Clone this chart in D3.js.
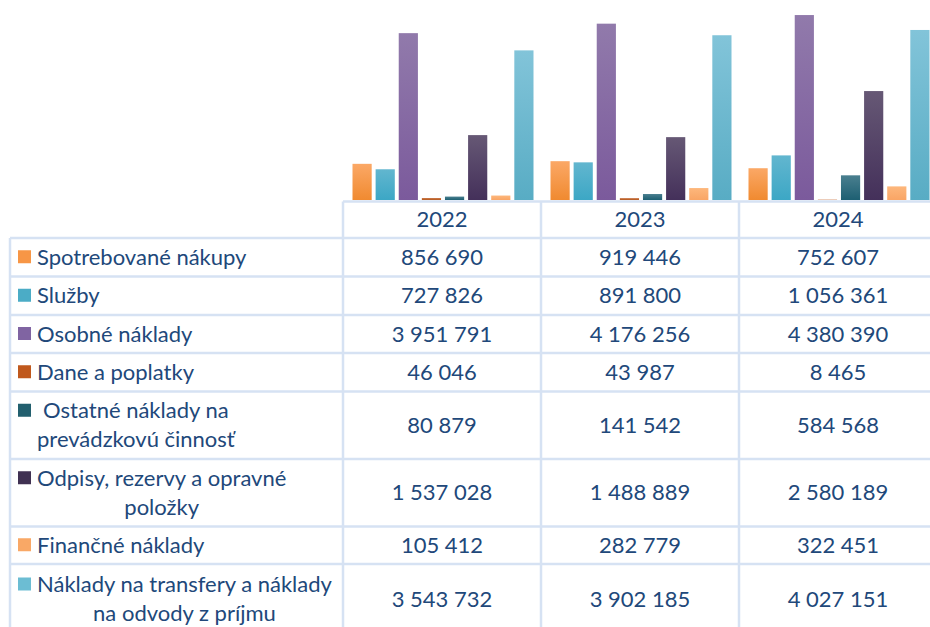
<!DOCTYPE html>
<html>
<head>
<meta charset="utf-8">
<script src="https://cdn.jsdelivr.net/npm/d3@7"></script>
<style>
  body { margin: 0; background: #fff; }
  text { font-family: Lato, "Open Sans", sans-serif; fill: #21487a; }
</style>
</head>
<body>
<div id="chart"></div>
<script>
var years = ['2022', '2023', '2024'];
var seriesNames = [
    ['Spotrebované nákupy'],
    ['Služby'],
    ['Osobné náklady'],
    ['Dane a poplatky'],
    ['Ostatné náklady na', 'prevádzkovú činnosť'],
    ['Odpisy, rezervy a opravné', 'položky'],
    ['Finančné náklady'],
    ['Náklady na transfery a náklady', 'na odvody z príjmu']
];
var spotrebovane = [856690, 919446, 752607];
var sluzby = [727826, 891800, 1056361];
var osobne = [3951791, 4176256, 4380390];
var dane = [46046, 43987, 8465];
var ostatne = [80879, 141542, 584568];
var odpisy = [1537028, 1488889, 2580189];
var financne = [105412, 282779, 322451];
var transfery = [3543732, 3902185, 4027151];

var values = [spotrebovane, sluzby, osobne, dane, ostatne, odpisy, financne, transfery];

// top / bottom of bar gradient, legend swatch
var colors = [
    ['#fba866', '#f08a30', '#f79646'],
    ['#62b6cf', '#3ca7c5', '#4bacc6'],
    ['#917aab', '#7b5a9c', '#8064a2'],
    ['#c8703c', '#b45a22', '#c0581c'],
    ['#4a7f8f', '#1d5f72', '#225f6e'],
    ['#665875', '#44305a', '#403152'],
    ['#fdb77c', '#f9a565', '#f9a866'],
    ['#82c4d9', '#58acc4', '#6cbdd3']
];

var W = 930, H = 627;
var rowEdges = [238, 276.5, 315, 353, 391.5, 459, 526.5, 564, 634];
var headTop = 201.5, tableLeft = 10, labelRight = 343;

var svg = d3.select('#chart')
    .append('svg')
    .attr('width', W)
    .attr('height', H);

var defs = svg.append('defs');
colors.forEach(function (c, i) {
    var g = defs.append('linearGradient')
        .attr('id', 'grad' + i)
        .attr('x1', 0).attr('y1', 0).attr('x2', 0).attr('y2', 1);
    g.append('stop').attr('offset', '0%').attr('stop-color', c[0]);
    g.append('stop').attr('offset', '100%').attr('stop-color', c[1]);
});

var xYear = d3.scaleBand()
    .domain(years)
    .range([labelRight, labelRight + 3 * 198]);

var xSeries = d3.scaleBand()
    .domain(d3.range(values.length))
    .range([9.5, 190.5])
    .paddingInner(0.17);

var y = d3.scaleLinear()
    .domain([0, 4500000])
    .range([200, 10]);

// bars
var groups = svg.selectAll('g.year')
    .data(years)
    .enter()
    .append('g')
    .attr('class', 'year')
    .attr('transform', function (d) { return 'translate(' + xYear(d) + ',0)'; });

groups.selectAll('rect')
    .data(function (d, yi) { return values.map(function (s, si) { return {s: si, v: s[yi]}; }); })
    .enter()
    .append('rect')
    .attr('x', function (d) { return xSeries(d.s); })
    .attr('width', xSeries.bandwidth())
    .attr('y', function (d) { return y(d.v); })
    .attr('height', function (d) { return y(0) - y(d.v); })
    .attr('fill', function (d) { return 'url(#grad' + d.s + ')'; });

// table grid
var grid = svg.append('g')
    .attr('stroke', '#d6e2f3')
    .attr('stroke-width', 2.5);

grid.append('line')
    .attr('x1', labelRight).attr('x2', W + 10)
    .attr('y1', headTop).attr('y2', headTop);

grid.selectAll('line.h')
    .data(rowEdges)
    .enter()
    .append('line')
    .attr('class', 'h')
    .attr('x1', tableLeft).attr('x2', W + 10)
    .attr('y1', function (d) { return d; })
    .attr('y2', function (d) { return d; });

grid.append('line')
    .attr('x1', tableLeft).attr('x2', tableLeft)
    .attr('y1', rowEdges[0]).attr('y2', H + 10);

grid.selectAll('line.v')
    .data(years)
    .enter()
    .append('line')
    .attr('class', 'v')
    .attr('x1', function (d) { return xYear(d); })
    .attr('x2', function (d) { return xYear(d); })
    .attr('y1', headTop).attr('y2', H + 10);

// header
svg.selectAll('text.year')
    .data(years)
    .enter()
    .append('text')
    .attr('class', 'year')
    .attr('x', function (d) { return xYear(d) + xYear.bandwidth() / 2; })
    .attr('y', (headTop + rowEdges[0]) / 2)
    .attr('dy', '0.35em')
    .attr('text-anchor', 'middle')
    .style('font-size', '22px')
    .text(function (d) { return d; });

var fmt = d3.formatLocale({decimal: ',', thousands: ' ', grouping: [3], currency: ['', '']}).format(',d');

var lineH = 29;

// rows
seriesNames.forEach(function (lines, i) {
    var top = rowEdges[i], bot = rowEdges[i + 1];
    var mid = (top + bot) / 2;
    var firstY = mid - (lines.length - 1) * lineH / 2;

    svg.append('rect')
        .attr('x', 18)
        .attr('y', firstY - 7)
        .attr('width', 13)
        .attr('height', 13)
        .attr('fill', colors[i][2]);

    var lab = svg.append('g');
    var texts = lab.selectAll('text')
        .data(lines)
        .enter()
        .append('text')
        .attr('y', function (d, k) { return firstY + k * lineH; })
        .attr('dy', '0.35em')
        .attr('text-anchor', 'middle')
        .style('font-size', '22px')
        .text(function (d) { return d; });
    var maxW = 0;
    texts.each(function () { maxW = Math.max(maxW, this.getComputedTextLength()); });
    texts.attr('x', 37 + maxW / 2);

    svg.selectAll(null)
        .data(years)
        .enter()
        .append('text')
        .attr('x', function (d) { return xYear(d) + xYear.bandwidth() / 2; })
        .attr('y', mid)
        .attr('dy', '0.35em')
        .attr('text-anchor', 'middle')
        .style('font-size', '22px')
        .text(function (d, yi) { return fmt(values[i][yi]); });
});
</script>
</body>
</html>
